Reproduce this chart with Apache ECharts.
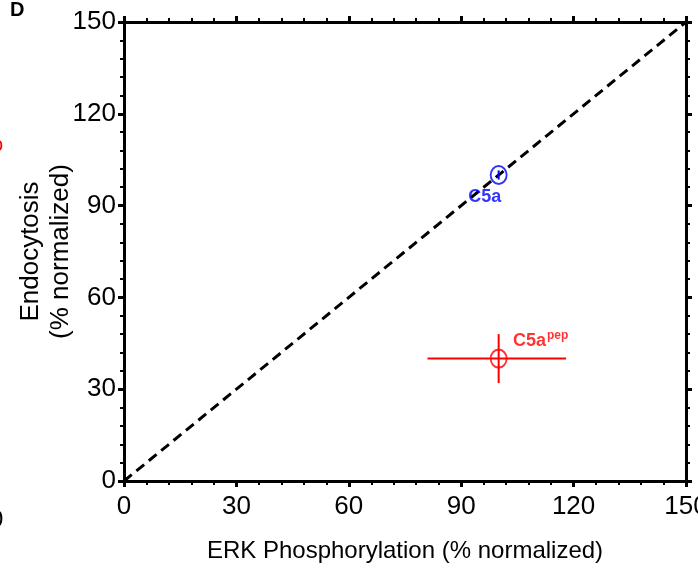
<!DOCTYPE html>
<html><head><meta charset="utf-8">
<script src="https://cdn.jsdelivr.net/npm/echarts@6/dist/echarts.min.js"></script>
<style>html,body{margin:0;padding:0;background:#fff}#c{width:698px;height:577px}</style>
</head><body><div id="c"></div>
<script>
// Data
var seriesNames = ['C5a', 'C5apep'];
var erkValues = [100, 100];          // x (ERK phosphorylation, % normalized)
var endoValues = [100, 40];          // y (Endocytosis, % normalized)
var erkErrLow = [100, 81];
var erkErrHigh = [100, 118];
var endoErrLow = [98.5, 32];
var endoErrHigh = [101.5, 48];
var identityLine = [[0, 0], [150, 150]];
var axisMin = 0, axisMax = 150, axisStep = 30;
var colors = ['#0000ff', '#ff0000'];

var FONT = '"Liberation Sans", Arial, sans-serif';

var chart = echarts.init(document.getElementById('c'));

function baseAxis(pos, showLabel, margin) {
  return {
    type: 'value', position: pos, min: axisMin, max: axisMax, interval: axisStep,
    axisLine: {show: true, onZero: false, lineStyle: {color: '#000', width: 3}},
    axisTick: {show: true, length: 6, lineStyle: {color: '#000', width: 3}},
    minorTick: {show: true, splitNumber: 5, length: 4, lineStyle: {color: '#000', width: 2}},
    splitLine: {show: false},
    axisLabel: {show: showLabel, color: '#000', fontFamily: FONT, fontSize: 26, margin: margin || 5}
  };
}

var xBottom = baseAxis('bottom', true, 13);
xBottom.name = 'ERK Phosphorylation (% normalized)';
xBottom.nameLocation = 'middle';
xBottom.nameGap = 58;
xBottom.nameTextStyle = {color: '#000', fontFamily: FONT, fontSize: 24};
var xTop = baseAxis('top', false);
var yLeft = baseAxis('left', true, 8);
yLeft.name = 'Endocytosis\n(% normalized)';
yLeft.nameLocation = 'middle';
yLeft.nameGap = 48;
yLeft.nameMoveOverlap = false;
yLeft.nameTextStyle = {color: '#000', fontFamily: FONT, fontSize: 26, lineHeight: 30};
var yRight = baseAxis('right', false);

var errData = seriesNames.map(function (n, i) {
  return [erkValues[i], endoValues[i], erkErrLow[i], erkErrHigh[i], endoErrLow[i], endoErrHigh[i], i];
});

chart.setOption({
  animation: false,
  grid: {left: 124, right: 12, top: 22, bottom: 96, outerBoundsMode: 'none', containLabel: false},
  xAxis: [xBottom, xTop],
  yAxis: [yLeft, yRight],
  graphic: [
    {type: 'text', left: 10, top: 0, style: {text: 'D', font: 'bold 20px ' + FONT, fill: '#000'}},
    {type: 'text', left: -8, top: 135, style: {text: 'o', font: '20px ' + FONT, fill: '#ff0000'}},
    {type: 'text', left: -10, top: 508, style: {text: '0', font: '24px ' + FONT, fill: '#000'}}
  ],
  series: [
    {
      type: 'line', data: identityLine, symbol: 'none', silent: true,
      lineStyle: {color: '#000', width: 3, type: [10, 6]}, z: 1
    },
    {
      type: 'custom', data: errData, z: 3,
      renderItem: function (params, api) {
        var x = api.value(0), y = api.value(1);
        var c = colors[api.value(6)];
        var a = api.coord([api.value(2), y]), b = api.coord([api.value(3), y]);
        var d = api.coord([x, api.value(4)]), e = api.coord([x, api.value(5)]);
        var st = {stroke: c, lineWidth: 2};
        return {type: 'group', children: [
          {type: 'line', shape: {x1: a[0], y1: a[1], x2: b[0], y2: b[1]}, style: st},
          {type: 'line', shape: {x1: d[0], y1: d[1], x2: e[0], y2: e[1]}, style: st}
        ]};
      }
    },
    {
      type: 'scatter', name: 'C5a', z: 4,
      data: [{
        value: [erkValues[0], endoValues[0]],
        label: {show: true, formatter: 'C5a', offset: [-14, 22], position: 'inside',
          color: '#0000ff', fontFamily: FONT, fontWeight: 'bold', fontSize: 18}
      }],
      symbol: 'circle', symbolSize: [16, 18],
      itemStyle: {color: 'rgba(0,0,0,0)', borderColor: '#0000ff', borderWidth: 2}
    },
    {
      type: 'scatter', name: 'C5apep', z: 4,
      data: [{
        value: [erkValues[1], endoValues[1]],
        label: {show: true, formatter: '{a|C5a}{b|pep}', offset: [42, -18], position: 'inside',
          rich: {
            a: {color: '#ff0000', fontFamily: FONT, fontWeight: 'bold', fontSize: 18},
            b: {color: '#ff0000', fontFamily: FONT, fontWeight: 'bold', fontSize: 12, verticalAlign: 'top', padding: [0, 0, 10, 1]}
          }}
      }],
      symbol: 'circle', symbolSize: [16, 18],
      itemStyle: {color: 'rgba(0,0,0,0)', borderColor: '#ff0000', borderWidth: 2}
    }
  ]
});
</script></body></html>
